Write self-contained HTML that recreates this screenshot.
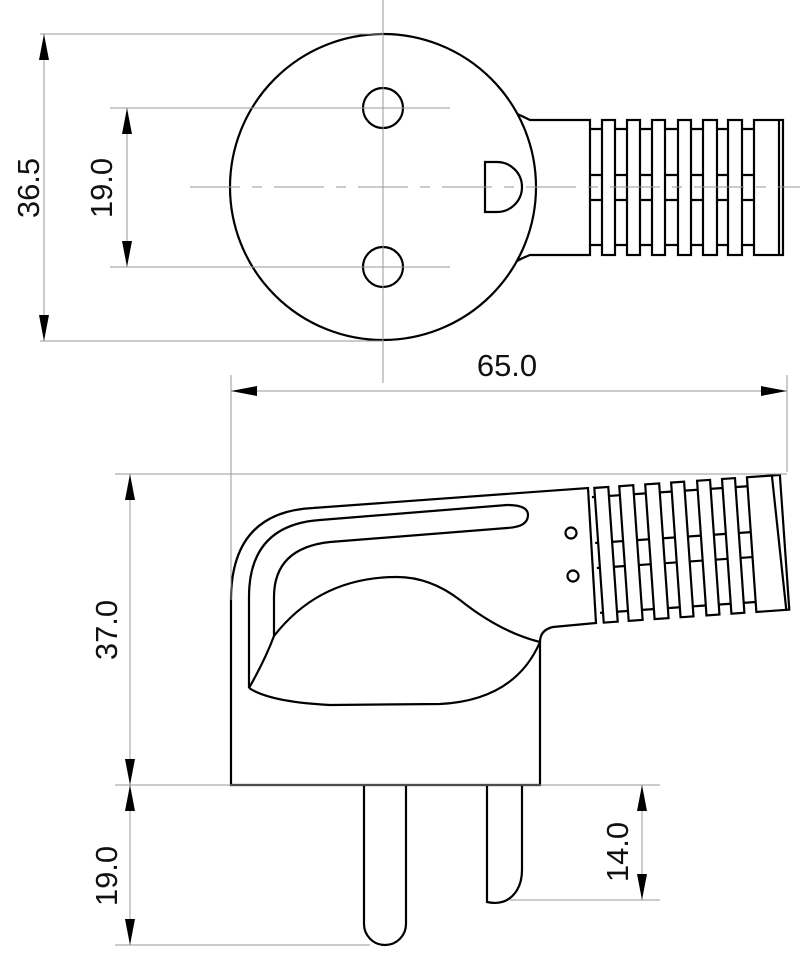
<!DOCTYPE html>
<html><head><meta charset="utf-8"><style>
html,body{margin:0;padding:0;background:#fff;}
svg{display:block;}
text{font-family:"Liberation Sans",sans-serif;font-size:31px;fill:#111;}
</style></head><body>
<svg width="800" height="968" viewBox="0 0 800 968" xmlns="http://www.w3.org/2000/svg">
<defs>
<marker id="a" viewBox="0 0 26 10" refX="26" refY="5" markerWidth="26" markerHeight="10" markerUnits="userSpaceOnUse" orient="auto-start-reverse"><path d="M0,0 L26,5 L0,10 Z" fill="#000"/></marker>
</defs>
<text transform="translate(39,188) rotate(-90)" text-anchor="middle">36.5</text>
<text transform="translate(112,188) rotate(-90)" text-anchor="middle">19.0</text>
<text x="507" y="376" text-anchor="middle">65.0</text>
<text transform="translate(117,630) rotate(-90)" text-anchor="middle">37.0</text>
<text transform="translate(117,876) rotate(-90)" text-anchor="middle">19.0</text>
<text transform="translate(628,852) rotate(-90)" text-anchor="middle">14.0</text>

<g stroke="#000" stroke-width="2.2" fill="none">
<!-- TOP VIEW -->
<path d="M515,113 Q522,116 530,120 L590,120 L590,255 L530,255 Q522,258 515,262" fill="#fff"/>
<circle cx="383" cy="187" r="153" fill="#fff"/>
<circle cx="383" cy="108" r="20"/>
<circle cx="383" cy="267" r="20"/>
<path d="M485,162 L497,162 A25,25 0 0 1 497,212 L485,212 Z"/>
<g transform="translate(590,187)">
<line x1="0" y1="-58" x2="165" y2="-58"/>
<line x1="0" y1="58" x2="165" y2="58"/>
<line x1="0" y1="-12" x2="165" y2="-12"/>
<line x1="0" y1="13" x2="165" y2="13"/>
<rect x="12" y="-67" width="13" height="135" fill="#fff"/>
<rect x="37" y="-67" width="13" height="135" fill="#fff"/>
<rect x="62" y="-67" width="13" height="135" fill="#fff"/>
<rect x="88" y="-67" width="13" height="135" fill="#fff"/>
<rect x="113" y="-67" width="14" height="135" fill="#fff"/>
<rect x="138" y="-67" width="14" height="135" fill="#fff"/>
<rect x="164" y="-67" width="29" height="135" fill="#fff"/>
<line x1="189" y1="-67" x2="189" y2="68"/>
</g>

<!-- SIDE VIEW -->
<path d="M231,785 L231,600 Q231,512 313,508 L588,488 L596,623 L553,627 Q540,630 540,642 L540,785 Z" fill="#fff"/>
<path d="M249,688 L249,597 Q249,525 320,520 L507,505 Q528,505 528,515 Q528,527 507,528 L330,542 Q274,548 274,597 L274,636"/>
<path d="M249,688 Q265,660 274,636 Q320,577 397,577 Q430,577 460,600 Q500,632 540,642"/>
<path d="M249,688 Q270,702 330,705 L440,704 Q515,700 540,642"/>
<circle cx="571" cy="533" r="5.5"/>
<circle cx="573" cy="576" r="5.5"/>
<g transform="translate(596,555) rotate(-4)">
<line x1="0" y1="-58" x2="156" y2="-58"/>
<line x1="0" y1="58" x2="156" y2="58"/>
<line x1="0" y1="-12" x2="156" y2="-12"/>
<line x1="0" y1="13" x2="156" y2="13"/>
<rect x="3" y="-67" width="14" height="135" fill="#fff"/>
<rect x="28" y="-67" width="14" height="135" fill="#fff"/>
<rect x="54" y="-67" width="14" height="135" fill="#fff"/>
<rect x="80" y="-67" width="13" height="135" fill="#fff"/>
<rect x="106" y="-67" width="13" height="135" fill="#fff"/>
<rect x="131" y="-67" width="13" height="135" fill="#fff"/>
<rect x="156" y="-67" width="33" height="135" fill="#fff"/>
<line x1="181" y1="-67" x2="186" y2="68"/>
</g>
<!-- prongs -->
<path d="M364,785 L364,924 A21,21 0 0 0 406,924 L406,785"/>
<path d="M487,785 L487,902 Q505,906 515,893 Q522,884 522,870 L522,785"/>
</g>

<g stroke="#999" stroke-width="1" fill="none">
<line x1="383" y1="0" x2="383" y2="383"/>
<line x1="40" y1="34" x2="383" y2="34"/>
<line x1="40" y1="341" x2="383" y2="341"/>
<line x1="110" y1="108" x2="450" y2="108"/>
<line x1="110" y1="267" x2="450" y2="267"/>
<line x1="190" y1="187" x2="800" y2="187" stroke-dasharray="50,12,10,12"/>
<line x1="231" y1="375" x2="231" y2="600"/>
<line x1="787" y1="375" x2="787" y2="472"/>
<line x1="115" y1="474" x2="787" y2="474"/>
<line x1="115" y1="785" x2="660" y2="785"/>
<line x1="510" y1="900" x2="660" y2="900"/>
<line x1="115" y1="945" x2="370" y2="945"/>
<line x1="44" y1="34" x2="44" y2="341" marker-start="url(#a)" marker-end="url(#a)"/>
<line x1="127" y1="108" x2="127" y2="267" marker-start="url(#a)" marker-end="url(#a)"/>
<line x1="231" y1="391" x2="787" y2="391" marker-start="url(#a)" marker-end="url(#a)"/>
<line x1="130" y1="474" x2="130" y2="785" marker-start="url(#a)" marker-end="url(#a)"/>
<line x1="130" y1="785" x2="130" y2="945" marker-start="url(#a)" marker-end="url(#a)"/>
<line x1="642" y1="785" x2="642" y2="900" marker-start="url(#a)" marker-end="url(#a)"/>
</g>
</svg>
</body></html>
